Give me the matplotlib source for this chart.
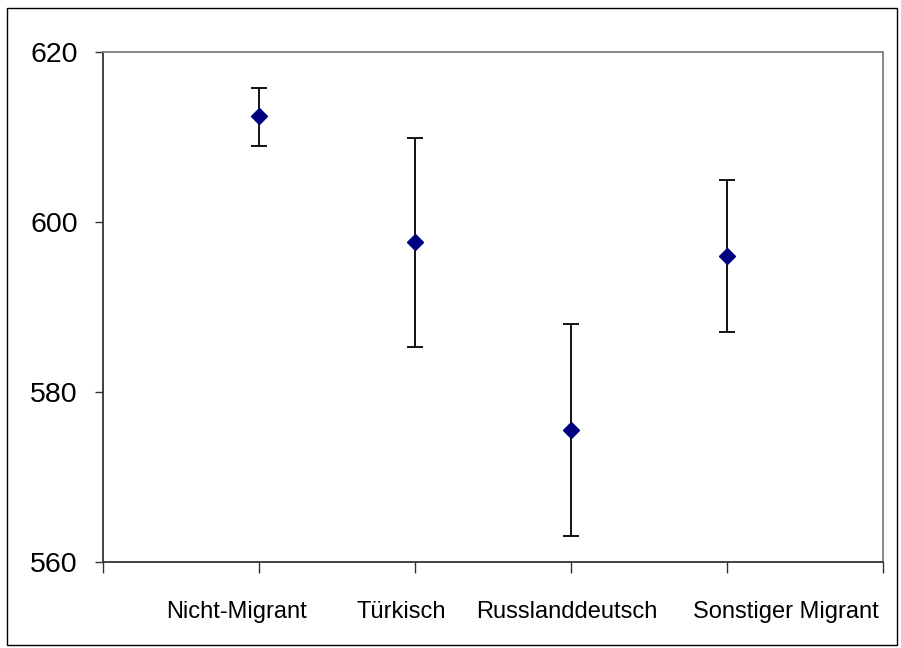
import matplotlib
matplotlib.use("Agg")
import matplotlib.pyplot as plt
from matplotlib.patches import Rectangle
import matplotlib.transforms as mtransforms

categories = ["Nicht-Migrant", "Türkisch", "Russlanddeutsch", "Sonstiger Migrant"]
means = [612.5, 597.6, 575.5, 596.0]
upper = [615.8, 609.9, 588.0, 604.9]
lower = [608.9, 585.3, 563.1, 587.1]

# horizontal shift of each category label relative to its tick (pixels)
label_shift_px = [-23, -14, -4, 59]

plt.rcParams['font.family'] = ['Liberation Sans', 'DejaVu Sans']

W, H = 901, 648
fig = plt.figure(figsize=(W / 100, H / 100), dpi=100)
ax = fig.add_axes([103 / W, 1 - 562 / H, 780 / W, 510 / H])

xs = list(range(1, len(categories) + 1))
yerr = [[m - l for m, l in zip(means, lower)], [u - m for u, m in zip(upper, means)]]
ax.errorbar(xs, means, yerr=yerr, fmt='none', ecolor='black', elinewidth=1.3,
            capsize=5.5, capthick=1.3, zorder=2)
ax.plot(xs, means, linestyle='none', marker='D', markersize=8.5,
        color='#000080', markeredgecolor='#000080', zorder=3)

ax.set_xlim(0, len(categories) + 1)
ax.set_ylim(560, 620)
ax.set_yticks([560, 580, 600, 620])
ax.set_yticklabels(["560", "580", "600", "620"], fontsize=20.5)
ax.set_xticks(range(0, len(categories) + 2))
ax.set_xticklabels([""] * (len(categories) + 2))

ax.tick_params(axis='y', direction='out', length=6, width=1, colors='#333333',
               labelcolor='black', pad=12)
ax.tick_params(axis='x', direction='out', length=8, width=1, colors='#333333',
               labelcolor='black')

blend = mtransforms.blended_transform_factory(ax.transData, ax.transAxes)
for x, lab, dx in zip(xs, categories, label_shift_px):
    ax.annotate(lab, xy=(x, 0), xycoords=blend,
                xytext=(dx * 0.72, -50 * 0.72), textcoords='offset points',
                ha='center', va='center', fontsize=17, color='black',
                annotation_clip=False)

for s in ['top', 'right']:
    ax.spines[s].set_color('#808080')
    ax.spines[s].set_linewidth(1.3)
for s in ['left', 'bottom']:
    ax.spines[s].set_color('#333333')
    ax.spines[s].set_linewidth(1.3)

fig.patches.append(Rectangle((7 / W, 1 - 645 / H), 890 / W, 637 / H,
                             transform=fig.transFigure, fill=False,
                             edgecolor='black', linewidth=1))

fig.savefig("out.png", dpi=100)
